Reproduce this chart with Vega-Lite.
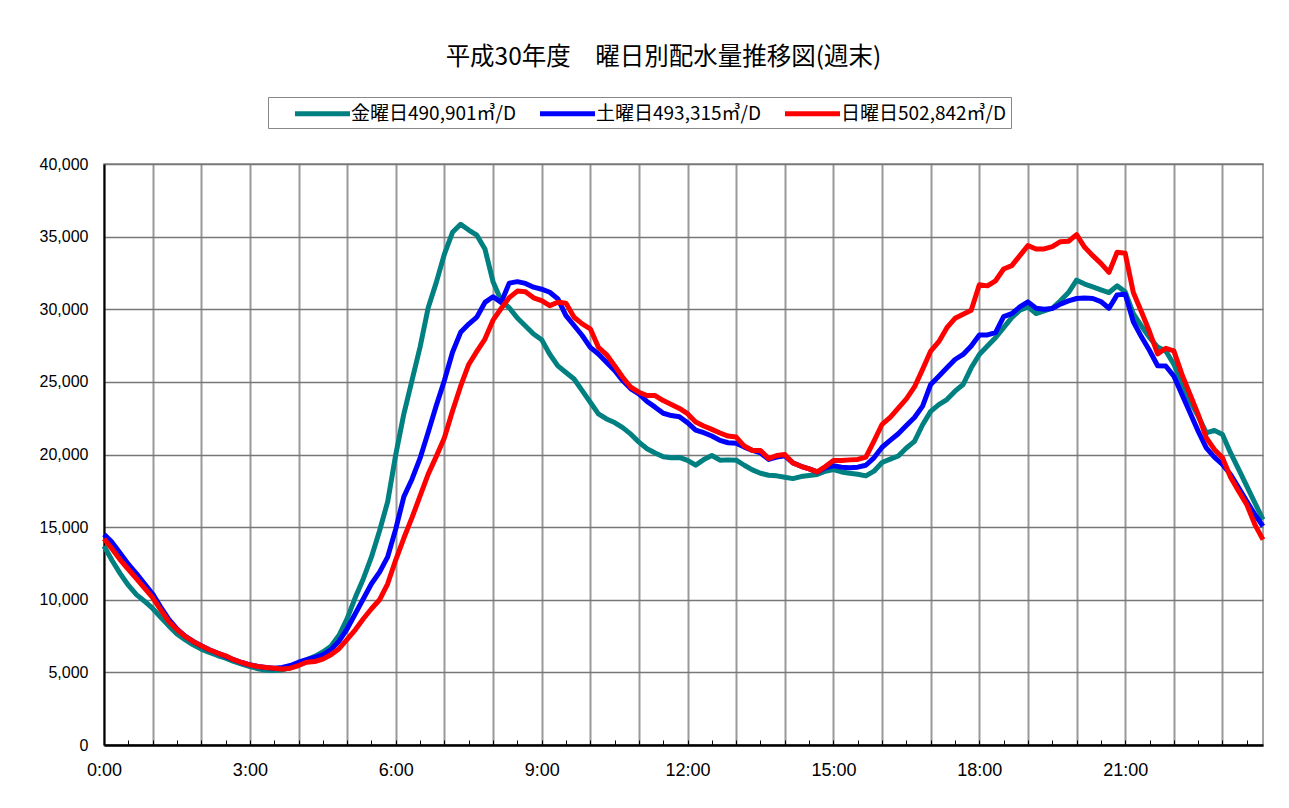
{
  "$schema": "https://vega.github.io/schema/vega-lite/v6.json",
  "width": 1159,
  "height": 581,
  "autosize": "none",
  "padding": {"left": 104, "top": 164, "right": 26, "bottom": 63},
  "background": "white",
  "title": {
    "text": "平成30年度　曜日別配水量推移図(週末)",
    "font": "Noto Sans CJK JP",
    "fontSize": 24.5,
    "fontWeight": "normal",
    "color": "black",
    "anchor": "middle",
    "dx": -20,
    "offset": 26
  },
  "config": {
    "view": {"stroke": "#888888", "strokeWidth": 1.5},
    "axis": {"labelFont": "Liberation Sans", "labelColor": "black", "labelFontSize": 17}
  },
  "data": {
    "values": [
      {"m":0,"fri":13700,"sat":14500,"sun":14200},{"m":10,"fri":12700,"sat":13950,"sun":13500},{"m":20,"fri":11800,"sat":13200,"sun":12750},{"m":30,"fri":11000,"sat":12450,"sun":12100},{"m":40,"fri":10350,"sat":11800,"sun":11450},{"m":50,"fri":9900,"sat":11100,"sun":10800},
      {"m":60,"fri":9400,"sat":10400,"sun":10140},{"m":70,"fri":8800,"sat":9500,"sun":9300},{"m":80,"fri":8200,"sat":8650,"sun":8500},{"m":90,"fri":7650,"sat":8000,"sun":7950},{"m":100,"fri":7250,"sat":7500,"sun":7480},{"m":110,"fri":6900,"sat":7130,"sun":7130},
      {"m":120,"fri":6600,"sat":6830,"sun":6830},{"m":130,"fri":6370,"sat":6560,"sun":6560},{"m":140,"fri":6160,"sat":6330,"sun":6330},{"m":150,"fri":5980,"sat":6100,"sun":6140},{"m":160,"fri":5750,"sat":5870,"sun":5870},{"m":170,"fri":5570,"sat":5680,"sun":5680},
      {"m":180,"fri":5400,"sat":5520,"sun":5520},{"m":190,"fri":5250,"sat":5410,"sun":5400},{"m":200,"fri":5150,"sat":5340,"sun":5330},{"m":210,"fri":5130,"sat":5290,"sun":5290},{"m":220,"fri":5170,"sat":5340,"sun":5240},{"m":230,"fri":5330,"sat":5470,"sun":5290},
      {"m":240,"fri":5630,"sat":5700,"sun":5470},{"m":250,"fri":5860,"sat":5870,"sun":5700},{"m":260,"fri":6100,"sat":6030,"sun":5750},{"m":270,"fri":6400,"sat":6210,"sun":5910},{"m":280,"fri":6800,"sat":6560,"sun":6210},{"m":290,"fri":7550,"sat":7150,"sun":6630},
      {"m":300,"fri":8700,"sat":8000,"sun":7270},{"m":310,"fri":10150,"sat":9040,"sun":7930},{"m":320,"fri":11450,"sat":10070,"sun":8690},{"m":330,"fri":12950,"sat":11100,"sun":9380},{"m":340,"fri":14750,"sat":11900,"sun":10000},{"m":350,"fri":16750,"sat":12950,"sun":11100},
      {"m":360,"fri":20000,"sat":14880,"sun":12750},{"m":370,"fri":22800,"sat":17100,"sun":14250},{"m":380,"fri":25100,"sat":18300,"sun":15650},{"m":390,"fri":27400,"sat":19750,"sun":17150},{"m":400,"fri":30100,"sat":21530,"sun":18650},{"m":410,"fri":31850,"sat":23370,"sun":19870},
      {"m":420,"fri":33800,"sat":25100,"sun":21150},{"m":430,"fri":35300,"sat":27040,"sun":23000},{"m":440,"fri":35850,"sat":28410,"sun":24700},{"m":450,"fri":35450,"sat":28980,"sun":26200},{"m":460,"fri":35100,"sat":29460,"sun":27100},{"m":470,"fri":34150,"sat":30470,"sun":27950},
      {"m":480,"fri":31900,"sat":30860,"sun":29250},{"m":490,"fri":30600,"sat":30470,"sun":30050},{"m":500,"fri":30100,"sat":31800,"sun":30800},{"m":510,"fri":29400,"sat":31900,"sun":31250},{"m":520,"fri":28850,"sat":31780,"sun":31200},{"m":530,"fri":28300,"sat":31520,"sun":30790},
      {"m":540,"fri":27900,"sat":31380,"sun":30600},{"m":550,"fri":26900,"sat":31170,"sun":30250},{"m":560,"fri":26100,"sat":30710,"sun":30480},{"m":570,"fri":25650,"sat":29560,"sun":30410},{"m":580,"fri":25200,"sat":28880,"sun":29450},{"m":590,"fri":24400,"sat":28190,"sun":28990},
      {"m":600,"fri":23600,"sat":27380,"sun":28650},{"m":610,"fri":22800,"sat":26920,"sun":27380},{"m":620,"fri":22450,"sat":26350,"sun":26880},{"m":630,"fri":22200,"sat":25780,"sun":26120},{"m":640,"fri":21850,"sat":25090,"sun":25320},{"m":650,"fri":21400,"sat":24520,"sun":24630},
      {"m":660,"fri":20850,"sat":24170,"sun":24290},{"m":670,"fri":20400,"sat":23650,"sun":24060},{"m":680,"fri":20100,"sat":23260,"sun":24060},{"m":690,"fri":19850,"sat":22840,"sun":23710},{"m":700,"fri":19770,"sat":22680,"sun":23440},{"m":710,"fri":19800,"sat":22600,"sun":23170},
      {"m":720,"fri":19600,"sat":22190,"sun":22810},{"m":730,"fri":19270,"sat":21680,"sun":22240},{"m":740,"fri":19650,"sat":21500,"sun":21960},{"m":750,"fri":19930,"sat":21270,"sun":21730},{"m":760,"fri":19610,"sat":20970,"sun":21480},{"m":770,"fri":19630,"sat":20810,"sun":21270},
      {"m":780,"fri":19610,"sat":20780,"sun":21200},{"m":790,"fri":19260,"sat":20510,"sun":20580},{"m":800,"fri":18940,"sat":20280,"sun":20280},{"m":810,"fri":18710,"sat":20120,"sun":20280},{"m":820,"fri":18570,"sat":19660,"sun":19720},{"m":830,"fri":18530,"sat":19820,"sun":19930},
      {"m":840,"fri":18430,"sat":19910,"sun":20000},{"m":850,"fri":18340,"sat":19420,"sun":19420},{"m":860,"fri":18480,"sat":19190,"sun":19190},{"m":870,"fri":18550,"sat":19010,"sun":19010},{"m":880,"fri":18620,"sat":18800,"sun":18800},{"m":890,"fri":18850,"sat":19080,"sun":19170},
      {"m":900,"fri":18960,"sat":19220,"sun":19590},{"m":910,"fri":18800,"sat":19130,"sun":19590},{"m":920,"fri":18710,"sat":19080,"sun":19630},{"m":930,"fri":18640,"sat":19130,"sun":19660},{"m":940,"fri":18530,"sat":19260,"sun":19820},{"m":950,"fri":18850,"sat":19770,"sun":20920},
      {"m":960,"fri":19450,"sat":20500,"sun":22080},{"m":970,"fri":19680,"sat":20970,"sun":22550},{"m":980,"fri":19900,"sat":21430,"sun":23190},{"m":990,"fri":20450,"sat":22000,"sun":23830},{"m":1000,"fri":20900,"sat":22550,"sun":24650},{"m":1010,"fri":22050,"sat":23330,"sun":25860},
      {"m":1020,"fri":22970,"sat":24820,"sun":27120},{"m":1030,"fri":23430,"sat":25390,"sun":27770},{"m":1040,"fri":23780,"sat":25970,"sun":28730},{"m":1050,"fri":24360,"sat":26540,"sun":29380},{"m":1060,"fri":24820,"sat":26890,"sun":29660},{"m":1070,"fri":25970,"sat":27470,"sun":29930},
      {"m":1080,"fri":26890,"sat":28230,"sun":31680},{"m":1090,"fri":27470,"sat":28230,"sun":31610},{"m":1100,"fri":28040,"sat":28390,"sun":31960},{"m":1110,"fri":28730,"sat":29490,"sun":32770},{"m":1120,"fri":29420,"sat":29700,"sun":33000},{"m":1130,"fri":29930,"sat":30160,"sun":33690},
      {"m":1140,"fri":30160,"sat":30510,"sun":34380},{"m":1150,"fri":29700,"sat":30070,"sun":34150},{"m":1160,"fri":29880,"sat":30000,"sun":34150},{"m":1170,"fri":30070,"sat":30050,"sun":34310},{"m":1180,"fri":30580,"sat":30350,"sun":34650},{"m":1190,"fri":31150,"sat":30580,"sun":34680},
      {"m":1200,"fri":32000,"sat":30740,"sun":35140},{"m":1210,"fri":31730,"sat":30780,"sun":34260},{"m":1220,"fri":31540,"sat":30740,"sun":33690},{"m":1230,"fri":31340,"sat":30530,"sun":33160},{"m":1240,"fri":31150,"sat":30070,"sun":32540},{"m":1250,"fri":31610,"sat":30990,"sun":33920},
      {"m":1260,"fri":31200,"sat":31040,"sun":33850},{"m":1270,"fri":29700,"sat":29140,"sun":31150},{"m":1280,"fri":28850,"sat":28100,"sun":29830},{"m":1290,"fri":28050,"sat":27160,"sun":28450},{"m":1300,"fri":27400,"sat":26110,"sun":26920},{"m":1310,"fri":27130,"sat":26090,"sun":27310},
      {"m":1320,"fri":26210,"sat":25400,"sun":27130},{"m":1330,"fri":24940,"sat":24140,"sun":25520},{"m":1340,"fri":23680,"sat":22870,"sun":24140},{"m":1350,"fri":22640,"sat":21610,"sun":22760},{"m":1360,"fri":21490,"sat":20460,"sun":21150},{"m":1370,"fri":21660,"sat":19820,"sun":20350},
      {"m":1380,"fri":21380,"sat":19310,"sun":19770},{"m":1390,"fri":20110,"sat":18620,"sun":18440},{"m":1400,"fri":18970,"sat":17700,"sun":17470},{"m":1410,"fri":17820,"sat":16780,"sun":16550},{"m":1420,"fri":16670,"sat":15860,"sun":15170},{"m":1430,"fri":15520,"sat":15060,"sun":14140}
    ]
  },
  "transform": [{"fold": ["fri", "sat", "sun"], "as": ["day", "v"]}],
  "mark": {"type": "line", "strokeWidth": 5, "strokeJoin": "round"},
  "encoding": {
    "x": {
      "field": "m",
      "type": "quantitative",
      "scale": {"domain": [0, 1430], "nice": false, "zero": false},
      "axis": {
        "title": null,
        "values": [0,30,60,90,120,150,180,210,240,270,300,330,360,390,420,450,480,510,540,570,600,630,660,690,720,750,780,810,840,870,900,930,960,990,1020,1050,1080,1110,1140,1170,1200,1230,1260,1290,1320,1350,1380,1410],
        "labelExpr": "datum.value % 180 === 0 ? floor(datum.value / 60) + ':00' : ''",
        "labelFontSize": 18,
        "labelPadding": 21,
        "labelOverlap": false,
        "labelFlush": false,
        "tickSize": -5,
        "tickColor": "black",
        "domainColor": "black",
        "domainWidth": 2.5,
        "grid": true,
        "gridColor": "#999999",
        "gridWidth": 2,
        "gridOpacity": {"condition": {"test": "datum.value % 60 === 0", "value": 1}, "value": 0}
      }
    },
    "y": {
      "field": "v",
      "type": "quantitative",
      "scale": {"domain": [0, 40000], "nice": false},
      "axis": {
        "title": null,
        "values": [0,5000,10000,15000,20000,25000,30000,35000,40000],
        "format": ",.0f",
        "labelFontSize": 16,
        "labelPadding": 16,
        "ticks": false,
        "domainColor": "black",
        "domainWidth": 2,
        "grid": true,
        "gridColor": "#777777",
        "gridWidth": 1.5
      }
    },
    "color": {
      "field": "day",
      "type": "nominal",
      "scale": {"domain": ["fri", "sat", "sun"], "range": ["#008080", "#0000FF", "#FF0000"]},
      "legend": {
        "title": null,
        "orient": "none",
        "legendX": 164,
        "legendY": -67,
        "direction": "horizontal",
        "labelExpr": "datum.label === 'fri' ? '金曜日490,901㎥/D' : datum.label === 'sat' ? '土曜日493,315㎥/D' : '日曜日502,842㎥/D'",
        "labelFont": "Noto Sans CJK JP",
        "labelFontSize": 19,
        "labelLimit": 400,
        "labelColor": "black",
        "symbolType": "M-2.75,0H2.75",
        "symbolStrokeWidth": 5,
        "symbolSize": 400,
        "symbolOffset": 38,
        "labelOffset": 16,
        "columnPadding": 0,
        "padding": 4,
        "strokeColor": "#888888",
        "fillColor": "white"
      }
    }
  }
}
